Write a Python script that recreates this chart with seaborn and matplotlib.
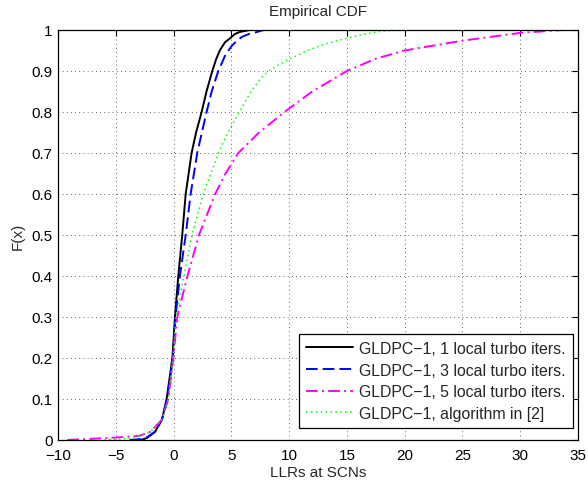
import matplotlib
matplotlib.use("Agg")
import matplotlib.pyplot as plt
import seaborn as sns
import pandas as pd

# Data (x = LLR value, F = empirical CDF)
x_1iter = [-2.8, -2.3, -1.6, -1.0, -0.6, -0.1, 0.12, 0.41, 0.75, 1.05, 1.56, 1.95, 2.43, 2.85, 3.35, 3.7, 4.0, 4.45, 4.9, 5.3, 5.7, 6.6, 7.0]
f_1iter = [0, 0.005, 0.02, 0.05, 0.1, 0.2, 0.3, 0.4, 0.5, 0.6, 0.7, 0.75, 0.8, 0.85, 0.9, 0.93, 0.95, 0.97, 0.98, 0.99, 0.995, 1.0, 1.0]

x_3iter = [-3.8, -2.5, -1.6, -1.0, -0.55, -0.05, 0.17, 0.55, 1.05, 1.48, 2.05, 2.45, 2.86, 3.3, 3.87, 4.5, 5.0, 5.45, 5.9, 6.5, 7.2, 7.8, 9.5]
f_3iter = [0, 0.003, 0.02, 0.05, 0.1, 0.2, 0.3, 0.4, 0.5, 0.6, 0.7, 0.75, 0.8, 0.85, 0.9, 0.94, 0.96, 0.973, 0.983, 0.99, 0.995, 1.0, 1.0]

x_5iter = [-9.2, -7, -5, -3, -2, -1, -0.45, -0.02, 0.32, 1.2, 2.2, 2.9, 3.6, 4.5, 5.6, 7.4, 9.6, 12, 15, 17.5, 20, 25, 30, 33.7]
f_5iter = [0, 0.003, 0.006, 0.01, 0.02, 0.05, 0.1, 0.2, 0.3, 0.4, 0.5, 0.55, 0.6, 0.65, 0.7, 0.75, 0.8, 0.85, 0.90, 0.93, 0.95, 0.974, 0.993, 1.0]

x_alg = [-6, -3.5, -2.0, -1.0, -0.45, -0.05, 0.2, 0.9, 1.6, 2.57, 3.9, 4.7, 5.7, 6.7, 7.5, 8.2, 9.1, 10.1, 11.6, 13, 15, 16.5, 18, 19.5]
f_alg = [0, 0.005, 0.02, 0.05, 0.1, 0.2, 0.3, 0.4, 0.5, 0.6, 0.7, 0.75, 0.8, 0.85, 0.88, 0.9, 0.915, 0.93, 0.95, 0.965, 0.98, 0.99, 0.997, 1.0]

labels = ["GLDPC\u22121, 1 local turbo iters.",
          "GLDPC\u22121, 3 local turbo iters.",
          "GLDPC\u22121, 5 local turbo iters.",
          "GLDPC\u22121, algorithm in [2]"]

x_ticks = [-10, -5, 0, 5, 10, 15, 20, 25, 30, 35]
y_ticks = [0, 0.1, 0.2, 0.3, 0.4, 0.5, 0.6, 0.7, 0.8, 0.9, 1]
y_ticklabels = ["0", "0.1", "0.2", "0.3", "0.4", "0.5", "0.6", "0.7", "0.8", "0.9", "1"]

sns.set_style("white")
plt.rcParams['font.family'] = ['Liberation Sans', 'DejaVu Sans']
plt.rcParams['axes.unicode_minus'] = True

fig = plt.figure(figsize=(5.88, 4.81), dpi=100)
ax = fig.add_axes([58/588, 40/481, 520/588, 410/481])

series = [
    (x_1iter, f_1iter, labels[0], "black", "-", 1.4),
    (x_3iter, f_3iter, labels[1], "#0000ff", (0, (6, 2.6)), 1.4),
    (x_5iter, f_5iter, labels[2], "#ff00ff", (0, (6, 2.2, 1, 2.2)), 1.4),
    (x_alg, f_alg, labels[3], "#00ff00", (0, (1, 2.2)), 1.1),
]
for xs, fs, lab, col, ls, lw in series:
    df = pd.DataFrame({"x": xs, "F": fs})
    sns.lineplot(data=df, x="x", y="F", ax=ax, sort=False, color=col,
                 linestyle=ls, linewidth=lw, label=lab, estimator=None)

ax.set_xlim(-10, 35)
ax.set_ylim(0, 1)
ax.set_xticks(x_ticks)
ax.set_xticklabels([str(t).replace("-", "\u2212") for t in x_ticks])
ax.set_yticks(y_ticks)
ax.set_yticklabels(y_ticklabels)
ax.tick_params(direction="in", top=True, right=True, length=4, width=0.8,
               labelsize=11, colors="black")
ax.tick_params(axis="x", pad=6)
ax.tick_params(axis="y", pad=4)
ax.grid(True, color="black", linestyle=(0, (1, 4)), linewidth=0.6, alpha=0.8)
for s in ax.spines.values():
    s.set_color("black")
    s.set_linewidth(0.9)
ax.set_xlabel("LLRs at SCNs", fontsize=11, labelpad=2)
ax.set_ylabel("F(x)", fontsize=11, labelpad=5)
ax.set_title("Empirical CDF", fontsize=11, pad=11)

leg = ax.legend(loc="lower right", bbox_to_anchor=(0.990, 0.029), borderaxespad=0,
                fontsize=11.4, frameon=True, fancybox=False,
                edgecolor="black", framealpha=1, handlelength=2.95,
                labelspacing=0.42, handletextpad=0.42, borderpad=0.45)
leg.get_frame().set_linewidth(0.9)

fig.savefig("out.png", dpi=100)
